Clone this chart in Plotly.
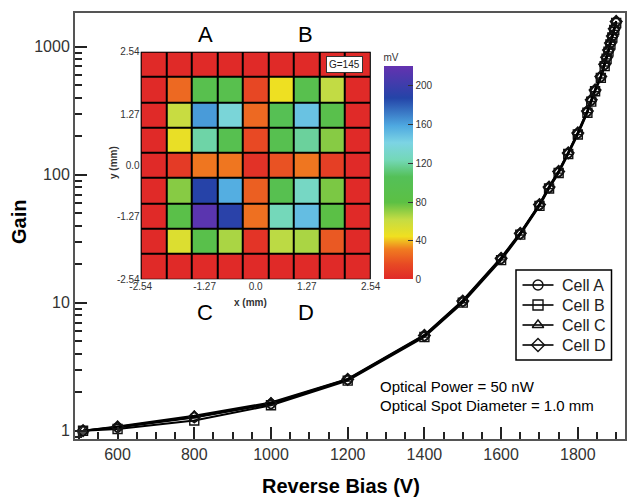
import plotly.graph_objects as go

# ---------------- data ----------------
bias_v = [510, 600, 800, 1000, 1200, 1400, 1500, 1600, 1650, 1700, 1725, 1750, 1775,
          1800, 1825, 1835, 1845, 1860, 1870, 1875, 1880, 1885, 1890, 1895, 1900]
gain_a = [1.0, 1.06, 1.27, 1.62, 2.50, 5.5, 10.2, 22.0, 34.5, 58, 79, 105, 147,
          210, 311, 380, 455, 580, 720, 820, 930, 1060, 1200, 1370, 1560]
gain_b = [1.0, 1.03, 1.20, 1.58, 2.46, 5.4, 10.0, 21.5, 34.0, 57, 78, 103, 145,
          206, 305, 372, 448, 570, 705, 805, 915, 1040, 1180, 1350, 1530]
gain_c = [1.0, 1.08, 1.31, 1.66, 2.54, 5.6, 10.4, 22.5, 35.2, 59, 81, 107, 150,
          214, 318, 388, 463, 592, 735, 836, 948, 1080, 1225, 1395, 1590]
gain_d = [1.0, 1.07, 1.28, 1.63, 2.52, 5.55, 10.3, 22.2, 34.8, 58.5, 80, 106, 148,
          212, 314, 384, 459, 586, 728, 828, 940, 1070, 1212, 1382, 1575]
cell_names = ["Cell A", "Cell B", "Cell C", "Cell D"]

# inset map (mV), rows listed top to bottom, 9 x 9 cells
map_rows = [
    [0, 0, 0, 0, 0, 0, 0, 0, 0],
    [0, 25, 92, 92, 14, 45, 92, 62, 0],
    [0, 60, 162, 136, 25, 100, 148, 90, 0],
    [0, 47, 120, 95, 15, 95, 118, 72, 0],
    [0, 8, 29, 29, 4, 18, 29, 10, 0],
    [0, 72, 188, 156, 22, 95, 128, 74, 0],
    [0, 86, 215, 190, 27, 124, 150, 82, 0],
    [0, 52, 88, 66, 5, 63, 66, 20, 0],
    [0, 0, 0, 0, 0, 0, 0, 0, 0],
]
map_tick_text = ["-2.54", "-1.27", "0.0", "1.27", "2.54"]
map_y_tick_text = ["2.54", "1.27", "0.0", "-1.27", "-2.54"]
cbar_ticks = [0, 40, 80, 120, 160, 200]

# ---------------- layout helpers ----------------
W, H = 627, 498
ML, MR, MT, MB = 75, 2, 13, 59
PW, PH = W - ML - MR, H - MT - MB


def px(xp):
    return (xp - ML) / PW


def py(yp):
    return (H - MB - yp) / PH


FONT = "Liberation Sans, Arial, Helvetica, sans-serif"
symbols = ["circle-open", "square-open", "triangle-up-open", "diamond-open"]
gains = [gain_a, gain_b, gain_c, gain_d]

fig = go.Figure()
for name, g, sym in zip(cell_names, gains, symbols):
    fig.add_trace(go.Scatter(
        x=bias_v, y=g, mode="lines+markers", name=name, showlegend=False,
        line=dict(color="black", width=2),
        marker=dict(symbol=sym, size=9, color="#111", line=dict(width=1.4, color="#111")),
    ))

colorscale = [
    [0.00, "#e02a28"], [0.07, "#e84a24"], [0.14, "#f07c20"], [0.20, "#f0e020"],
    [0.28, "#c4dc44"], [0.36, "#5cc044"], [0.48, "#54c058"], [0.56, "#74d8b8"],
    [0.64, "#7cd4e4"], [0.72, "#4ea8e0"], [0.85, "#2444a8"], [1.00, "#6432b0"],
]

fig.add_trace(go.Heatmap(
    z=map_rows, x=list(range(9)), y=list(range(9)), xaxis="x2", yaxis="y2",
    colorscale=colorscale, zmin=0, zmax=220, xgap=2, ygap=2, showlegend=False,
    hoverinfo="skip",
    colorbar=dict(
        x=px(383.5), xanchor="left", y=py(165), yanchor="middle",
        len=228.6 / PH, lenmode="fraction", thickness=29, thicknessmode="pixels",
        xpad=0, ypad=0, outlinewidth=0,
        tickvals=cbar_ticks, ticks="inside", ticklen=5, tickcolor="#333",
        tickfont=dict(size=10, color="#333", family=FONT),
        title=dict(text="mV", side="top", font=dict(size=10, color="#333", family=FONT)),
    ),
))

fig.add_shape(type="rect", xref="x2", yref="y2", x0=-0.5, x1=8.5, y0=-0.5, y1=8.5,
              fillcolor="black", line=dict(color="black", width=2), layer="below")

# ---------------- hand-drawn legend (box, keys, labels) ----------------
leg_rows_y = [285, 305, 325, 345]
fig.add_shape(type="rect", xref="paper", yref="paper",
              x0=px(516), x1=px(611.5), y0=py(360), y1=py(270),
              fillcolor="white", line=dict(color="black", width=1.5), layer="below")
for ry in leg_rows_y:
    fig.add_shape(type="line", xref="paper", yref="paper",
                  x0=px(522.5), x1=px(553.5), y0=py(ry), y1=py(ry),
                  line=dict(color="black", width=1.6), layer="below")
for sym, ry in zip(symbols, leg_rows_y):
    fig.add_trace(go.Scatter(
        x=[px(538)], y=[py(ry)], xaxis="x3", yaxis="y3",
        mode="markers", showlegend=False, hoverinfo="skip",
        marker=dict(symbol=sym, size=10, color="#111", line=dict(width=1.4, color="#111")),
    ))

annotations = [
    dict(text="<b>Gain</b>", x=px(19), y=py(222), textangle=-90, font=dict(size=20)),
    dict(text="<b>Reverse Bias (V)</b>", x=px(341), y=py(486), font=dict(size=20)),
    dict(text="Optical Power = 50 nW", x=px(378), y=py(386), xanchor="left", font=dict(size=15)),
    dict(text="Optical Spot Diameter = 1.0 mm", x=px(378), y=py(405), xanchor="left", font=dict(size=15)),
    dict(text="A", x=px(205), y=py(34), font=dict(size=22)),
    dict(text="B", x=px(305), y=py(34), font=dict(size=22)),
    dict(text="C", x=px(205), y=py(312), font=dict(size=22)),
    dict(text="D", x=px(306), y=py(312), font=dict(size=22)),
    dict(text="<b>x (mm)</b>", x=px(250), y=py(302), font=dict(size=10, color="#333")),
    dict(text="<b>y (mm)</b>", x=px(113), y=py(163), textangle=-90, font=dict(size=10, color="#333")),
    dict(text="G=145", x=px(344.7), y=py(64.5), font=dict(size=10, color="#222"),
         bgcolor="white", bordercolor="#333", borderwidth=1, borderpad=2),
]
for name, ry in zip(cell_names, leg_rows_y):
    annotations.append(dict(text=name, x=px(560), y=py(ry), xanchor="left",
                            font=dict(size=16, color="#222")))
for a in annotations:
    a.setdefault("xref", "paper")
    a.setdefault("yref", "paper")
    a.setdefault("showarrow", False)
    a.setdefault("xanchor", "center")
    a.setdefault("yanchor", "middle")
    a["font"].setdefault("family", FONT)
    a["font"].setdefault("color", "black")

fig.update_layout(
    width=W, height=H,
    margin=dict(l=ML, r=MR, t=MT, b=MB, pad=0, autoexpand=False),
    paper_bgcolor="white", plot_bgcolor="rgba(0,0,0,0)",
    font=dict(family=FONT, color="#222"),
    annotations=annotations,
    showlegend=False,
    xaxis=dict(
        range=[489, 1923], showgrid=False, zeroline=False,
        showline=True, linecolor="#555", linewidth=2, mirror=True,
        tickvals=[600, 800, 1000, 1200, 1400, 1600, 1800],
        ticks="inside", ticklen=12, tickwidth=1.5, tickcolor="#222",
        tickfont=dict(size=16, color="#333"),
        minor=dict(ticks="inside", ticklen=7, tickwidth=1.5, tickcolor="#222", dtick=50, tick0=0, showgrid=False),
    ),
    yaxis=dict(
        type="log", range=[-0.065, 3.263], showgrid=False, zeroline=False,
        showline=True, linecolor="#555", linewidth=2, mirror=True,
        tickvals=[1, 10, 100, 1000], ticktext=["1", "10", "100", "1000"],
        ticks="inside", ticklen=12, tickwidth=1.5, tickcolor="#222",
        tickfont=dict(size=16, color="#333"),
        minor=dict(ticks="inside", ticklen=7, tickwidth=1.5, tickcolor="#222", dtick="D1", showgrid=False),
    ),
    xaxis2=dict(
        domain=[px(140.7), px(370.7)], anchor="y2", range=[-0.5, 8.5],
        showgrid=False, zeroline=False, showline=False,
        tickvals=[-0.5, 2, 4, 6, 8.5], ticktext=map_tick_text,
        ticks="", tickfont=dict(size=10, color="#333"),
    ),
    yaxis2=dict(
        domain=[py(279.3), py(51.7)], anchor="x2", range=[8.5, -0.5],
        showgrid=False, zeroline=False, showline=False,
        tickvals=[-0.5, 2, 4, 6, 8.5], ticktext=map_y_tick_text,
        ticks="", tickfont=dict(size=10, color="#333"),
    ),
    xaxis3=dict(domain=[0, 1], range=[0, 1], anchor="y3", showgrid=False, zeroline=False,
                showticklabels=False, showline=False, ticks=""),
    yaxis3=dict(domain=[0, 1], range=[0, 1], anchor="x3", showgrid=False, zeroline=False,
                showticklabels=False, showline=False, ticks=""),
)

fig.write_html("out.html", config={"displayModeBar": False},
               post_script="document.body.style.margin='0px';")
